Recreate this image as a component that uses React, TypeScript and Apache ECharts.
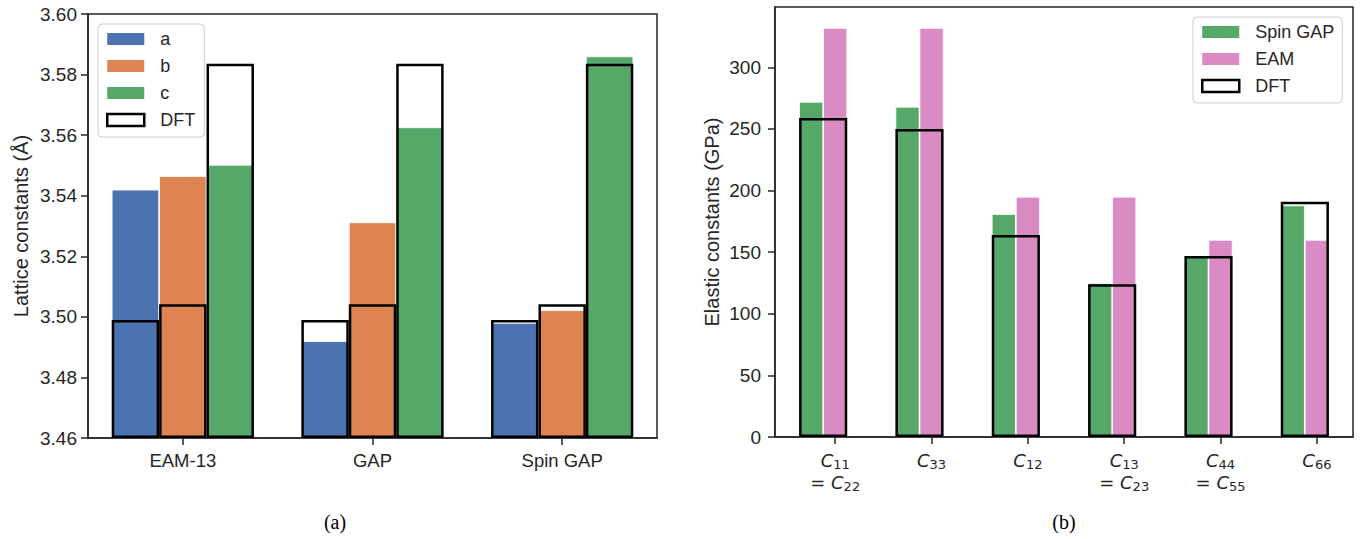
import React, { useEffect, useRef } from 'react';
import * as echarts from 'echarts';

// ---------- Panel (a): lattice constants ----------
const latticeCategories = ['EAM-13', 'GAP', 'Spin GAP'];
const latticeA = [3.542, 3.492, 3.498];
const latticeB = [3.5465, 3.5312, 3.5022];
const latticeC = [3.5502, 3.5626, 3.586];
const dftLatticeA = [3.4990, 3.4990, 3.4990];
const dftLatticeB = [3.5042, 3.5042, 3.5042];
const dftLatticeC = [3.5836, 3.5836, 3.5836];

// ---------- Panel (b): elastic constants ----------
const elasticIndices = ['11', '33', '12', '13', '44', '66'];
const elasticEquivalents = ['22', '', '', '23', '55', ''];
const elasticSpinGap = [272, 268, 181, 125, 147, 188];
const elasticEam = [332, 332, 195, 195, 160, 160];
const elasticDft = [259, 250, 164, 124, 147, 191];
const elasticTicks = [0, 50, 100, 150, 200, 250, 300];
const elasticLabelPositions = [0, 1, 2, 3, 4, 5];

const TEXT = '#262626';
const SANS = 'Liberation Sans, Arial, Helvetica, sans-serif';
const BLUE = '#4C72B0';
const ORANGE = '#DD8452';
const GREEN = '#55A868';
const PINK = '#DA8BC3';

export default function App() {
  const ref = useRef<HTMLDivElement>(null);

  useEffect(() => {
    if (!ref.current) return;
    const chart = echarts.init(ref.current, undefined, { renderer: 'svg' });

    const colored = (name: string, data: number[], color: string, xAxisIndex: number, yAxisIndex: number, barWidth: string) => ({
      type: 'bar', name, data, xAxisIndex, yAxisIndex, barWidth, barGap: '0%', silent: true, z: 2,
      itemStyle: { color, borderColor: '#ffffff', borderWidth: 0.8 },
    });
    const dft = (data: number[], xAxisIndex: number, yAxisIndex: number, barWidth: string) => ({
      type: 'bar', name: 'DFT', data, xAxisIndex, yAxisIndex, barWidth, barGap: '0%', silent: true, z: 3,
      itemStyle: { color: 'rgba(0,0,0,0)', borderColor: '#000000', borderWidth: 2.5 },
    });

    const legendCommon = {
      orient: 'vertical', icon: 'rect', itemWidth: 37, itemHeight: 12, itemGap: 7,
      backgroundColor: 'rgba(255,255,255,0.8)', borderColor: '#cccccc', borderWidth: 1, borderRadius: 4,
      textStyle: { fontFamily: SANS, fontSize: 18, color: TEXT, lineHeight: 20, padding: [0, 0, 0, 11] },
      itemStyle: { borderWidth: 0 },
      selectedMode: false,
    };

    const subLabel = (idx: string) => `{c|C}{s|${idx}}`;

    chart.setOption({
      animation: false,
      backgroundColor: '#ffffff',
      textStyle: { fontFamily: SANS, color: TEXT },
      grid: [
        { left: 88, top: 14, width: 569, height: 424, show: true, borderColor: TEXT, borderWidth: 1.5, backgroundColor: 'transparent' },
        { left: 775, top: 7, width: 578, height: 430, show: true, borderColor: TEXT, borderWidth: 1.5, backgroundColor: 'transparent' },
      ],
      legend: [
        {
          ...legendCommon, left: 98, top: 24, padding: [5, 9, 7, 8],
          data: ['a', 'b', 'c', { name: 'DFT', itemStyle: { color: '#ffffff', borderColor: '#000000', borderWidth: 2.5 } }],
        },
        {
          ...legendCommon, left: 1193, top: 17, padding: [5, 8, 7, 8],
          data: ['Spin GAP', 'EAM', { name: 'DFT', itemStyle: { color: '#ffffff', borderColor: '#000000', borderWidth: 2.5 } }],
        },
      ],
      xAxis: [
        {
          type: 'category', gridIndex: 0, data: latticeCategories, position: 'bottom',
          axisLine: { show: true, onZero: false, lineStyle: { color: TEXT, width: 1.5 } },
          axisTick: { show: true, alignWithLabel: true, length: 7, lineStyle: { color: TEXT, width: 1.5 } },
          axisLabel: { fontFamily: SANS, fontSize: 18.5, color: TEXT, margin: 11, lineHeight: 22 },
          splitLine: { show: false },
        },
        { type: 'category', gridIndex: 0, data: latticeCategories, show: false },
        {
          type: 'value', gridIndex: 1, min: -0.625, max: 5.375, position: 'bottom',
          axisLine: { show: true, onZero: false, lineStyle: { color: TEXT, width: 1.5 } },
          axisTick: { show: true, length: 7, customValues: elasticLabelPositions, lineStyle: { color: TEXT, width: 1.5 } },
          splitLine: { show: false },
          axisLabel: {
            customValues: elasticLabelPositions,
            margin: 12,
            formatter: (v: number) => {
              const i = Math.round(v);
              const eq = elasticEquivalents[i];
              return subLabel(elasticIndices[i]) + (eq ? `\n{e|= }${subLabel(eq)}` : '');
            },
            rich: {
              c: { fontFamily: 'DejaVu Sans', fontStyle: 'italic', fontSize: 18, lineHeight: 22, color: TEXT },
              s: { fontFamily: 'DejaVu Sans', fontSize: 13, lineHeight: 13, verticalAlign: 'bottom', color: TEXT },
              e: { fontFamily: 'DejaVu Sans', fontSize: 18, lineHeight: 22, color: TEXT },
            },
          },
        },
        { type: 'category', gridIndex: 1, data: elasticIndices, show: false },
        { type: 'category', gridIndex: 1, data: elasticIndices, show: false },
      ],
      yAxis: [
        {
          type: 'value', gridIndex: 0, min: 3.46, max: 3.6, interval: 0.02, startValue: 3.46,
          name: 'Lattice constants (Å)', nameLocation: 'middle', nameGap: 57,
          nameTextStyle: { fontFamily: SANS, fontSize: 20, color: TEXT },
          axisLine: { show: true, onZero: false, lineStyle: { color: TEXT, width: 1.5 } },
          axisTick: { show: true, length: 7, lineStyle: { color: TEXT, width: 1.5 } },
          axisLabel: { fontFamily: SANS, fontSize: 19, color: TEXT, margin: 11, formatter: (v: number) => v.toFixed(2) },
          splitLine: { show: false },
        },
        {
          type: 'value', gridIndex: 1, min: 0, max: 349,
          name: 'Elastic constants (GPa)', nameLocation: 'middle', nameGap: 53,
          nameTextStyle: { fontFamily: SANS, fontSize: 20, color: TEXT },
          axisLine: { show: true, onZero: false, lineStyle: { color: TEXT, width: 1.5 } },
          axisTick: { show: true, length: 7, customValues: elasticTicks, lineStyle: { color: TEXT, width: 1.5 } },
          axisLabel: { fontFamily: SANS, fontSize: 19, color: TEXT, margin: 14, customValues: elasticTicks },
          splitLine: { show: false },
        },
      ],
      series: [
        colored('a', latticeA, BLUE, 0, 0, '25%'),
        colored('b', latticeB, ORANGE, 0, 0, '25%'),
        colored('c', latticeC, GREEN, 0, 0, '25%'),
        dft(dftLatticeA, 1, 0, '25%'),
        dft(dftLatticeB, 1, 0, '25%'),
        dft(dftLatticeC, 1, 0, '25%'),
        colored('Spin GAP', elasticSpinGap, GREEN, 3, 1, '25%'),
        colored('EAM', elasticEam, PINK, 3, 1, '25%'),
        dft(elasticDft, 4, 1, '50%'),
      ],
      graphic: [
        { type: 'text', x: 335, y: 522, silent: true, style: { text: '(a)', align: 'center', verticalAlign: 'middle', fontSize: 20, fontFamily: 'Liberation Serif, serif', fill: '#000000' } },
        { type: 'text', x: 1064, y: 522, silent: true, style: { text: '(b)', align: 'center', verticalAlign: 'middle', fontSize: 20, fontFamily: 'Liberation Serif, serif', fill: '#000000' } },
      ],
    });

    return () => chart.dispose();
  }, []);

  return <div ref={ref} style={{ position: 'fixed', left: 0, top: 0, width: 1360, height: 539 }} />;
}
